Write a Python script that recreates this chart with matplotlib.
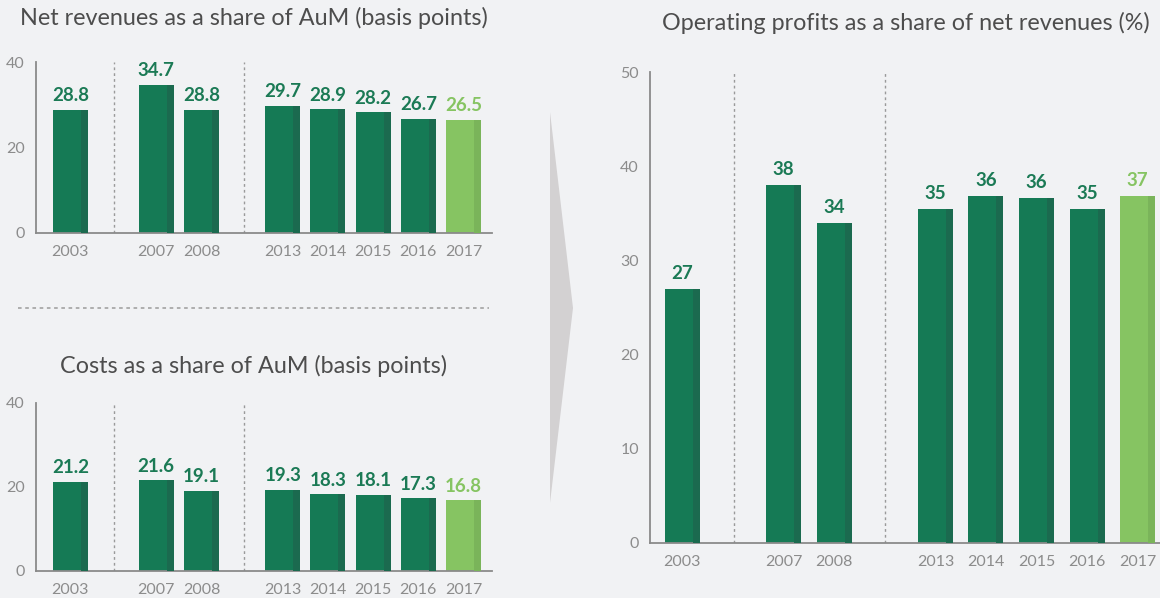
import matplotlib
matplotlib.use("Agg")
import matplotlib.pyplot as plt
from matplotlib.patches import Polygon
from matplotlib.lines import Line2D

# ---- data ----
years = ["2003", "2007", "2008", "2013", "2014", "2015", "2016", "2017"]
net_revenues_bp = [28.8, 34.7, 28.8, 29.7, 28.9, 28.2, 26.7, 26.5]
costs_bp = [21.2, 21.6, 19.1, 19.3, 18.3, 18.1, 17.3, 16.8]
op_profit_pct = [27.0, 38.0, 34.0, 35.5, 36.8, 36.6, 35.5, 36.8]
op_profit_labels = ["27", "38", "34", "35", "36", "36", "35", "37"]
left_yticks = [0, 20, 40]
right_yticks = [0, 10, 20, 30, 40, 50]

# ---- style ----
BG = "#f1f2f4"
GREEN = "#157a55"
GREEN_SHADE = "#1b6a4f"
LIGHT = "#86c462"
LIGHT_SHADE = "#7ab45a"
LABEL_GREEN = "#1b7a55"
TICK_GRAY = "#8c8c8c"
AXIS_GRAY = "#8a8a8a"
TITLE_GRAY = "#4d4d4d"
FONT = ["Lato", "DejaVu Sans"]

plt.rcParams["font.family"] = FONT

fig = plt.figure(figsize=(11.6, 5.98), dpi=100, facecolor=BG)

left_pos = [0, 1.9, 2.9, 4.7, 5.7, 6.7, 7.7, 8.7]
right_pos = [0, 2, 3, 5, 6, 7, 8, 9]


def draw_panel(ax, pos, vals, labels, width, ylim, yticks, xlim, seps, label_off):
    ax.set_facecolor(BG)
    colors = [GREEN] * (len(vals) - 1) + [LIGHT]
    shades = [GREEN_SHADE] * (len(vals) - 1) + [LIGHT_SHADE]
    ax.bar(pos, vals, width=width, color=colors, zorder=2)
    sw = width * 0.2
    ax.bar([p + width / 2 - sw / 2 for p in pos], vals, width=sw, color=shades, zorder=3)
    for i, (p, v, lab) in enumerate(zip(pos, vals, labels)):
        c = LIGHT if i == len(vals) - 1 else LABEL_GREEN
        ax.annotate(lab, (p, v), xytext=(0, label_off), textcoords="offset points",
                    ha="center", va="bottom", fontsize=13.5, fontweight="bold",
                    color=c, family=FONT)
    for s in seps:
        ax.axvline(s, color="#9a9a9a", lw=1, linestyle=(0, (2, 2.2)), zorder=1)
    ax.set_xlim(*xlim)
    ax.set_ylim(*ylim)
    ax.set_yticks(yticks)
    ax.set_xticks(pos)
    ax.set_xticklabels(years)
    ax.tick_params(axis="both", length=0, labelsize=11.5, labelcolor=TICK_GRAY)
    ax.tick_params(axis="x", pad=9)
    ax.tick_params(axis="y", pad=8)
    for sp in ["top", "right"]:
        ax.spines[sp].set_visible(False)
    for sp in ["left", "bottom"]:
        ax.spines[sp].set_color(AXIS_GRAY)
        ax.spines[sp].set_linewidth(1.3)


ax1 = fig.add_axes([36 / 1160, 365 / 598, 456 / 1160, 171 / 598])
draw_panel(ax1, left_pos, net_revenues_bp, [f"{v:.1f}" for v in net_revenues_bp],
           0.774, (0, 40), left_yticks, (-0.76, 9.33), [0.96, 3.84], 4)

ax2 = fig.add_axes([36 / 1160, 27 / 598, 456 / 1160, 168 / 598])
draw_panel(ax2, left_pos, costs_bp, [f"{v:.1f}" for v in costs_bp],
           0.774, (0, 40), left_yticks, (-0.76, 9.33), [0.96, 3.84], 4)

ax3 = fig.add_axes([650 / 1160, 55 / 598, 510 / 1160, 471 / 598])
draw_panel(ax3, right_pos, op_profit_pct, op_profit_labels,
           0.69, (0, 50), right_yticks, (-0.64, 9.44), [1.02, 4.0], 5)

# titles
TSIZE = 16.8
fig.text(254 / 1160, 1 - 18 / 598, "Net revenues as a share of AuM (basis points)",
         ha="center", va="center", fontsize=TSIZE, color=TITLE_GRAY, family=FONT)
fig.text(253.5 / 1160, 1 - 366 / 598, "Costs as a share of AuM (basis points)",
         ha="center", va="center", fontsize=TSIZE, color=TITLE_GRAY, family=FONT)
fig.text(905.5 / 1160, 1 - 23 / 598, "Operating profits as a share of net revenues (%)",
         ha="center", va="center", fontsize=TSIZE, color=TITLE_GRAY, family=FONT)

# dotted separator between left panels
fig.add_artist(Line2D([18 / 1160, 489 / 1160], [1 - 308 / 598, 1 - 308 / 598],
                      transform=fig.transFigure, color="#a8a8a8", lw=1.3,
                      linestyle=(0, (2, 2))))

# big arrow
arrow = Polygon([[550 / 1160, 1 - 112 / 598], [573 / 1160, 1 - 308 / 598],
                 [550 / 1160, 1 - 503 / 598]], closed=True,
                transform=fig.transFigure, facecolor="#d3d1d2", edgecolor="none")
fig.add_artist(arrow)

fig.savefig("out.png", dpi=100, facecolor=BG)
